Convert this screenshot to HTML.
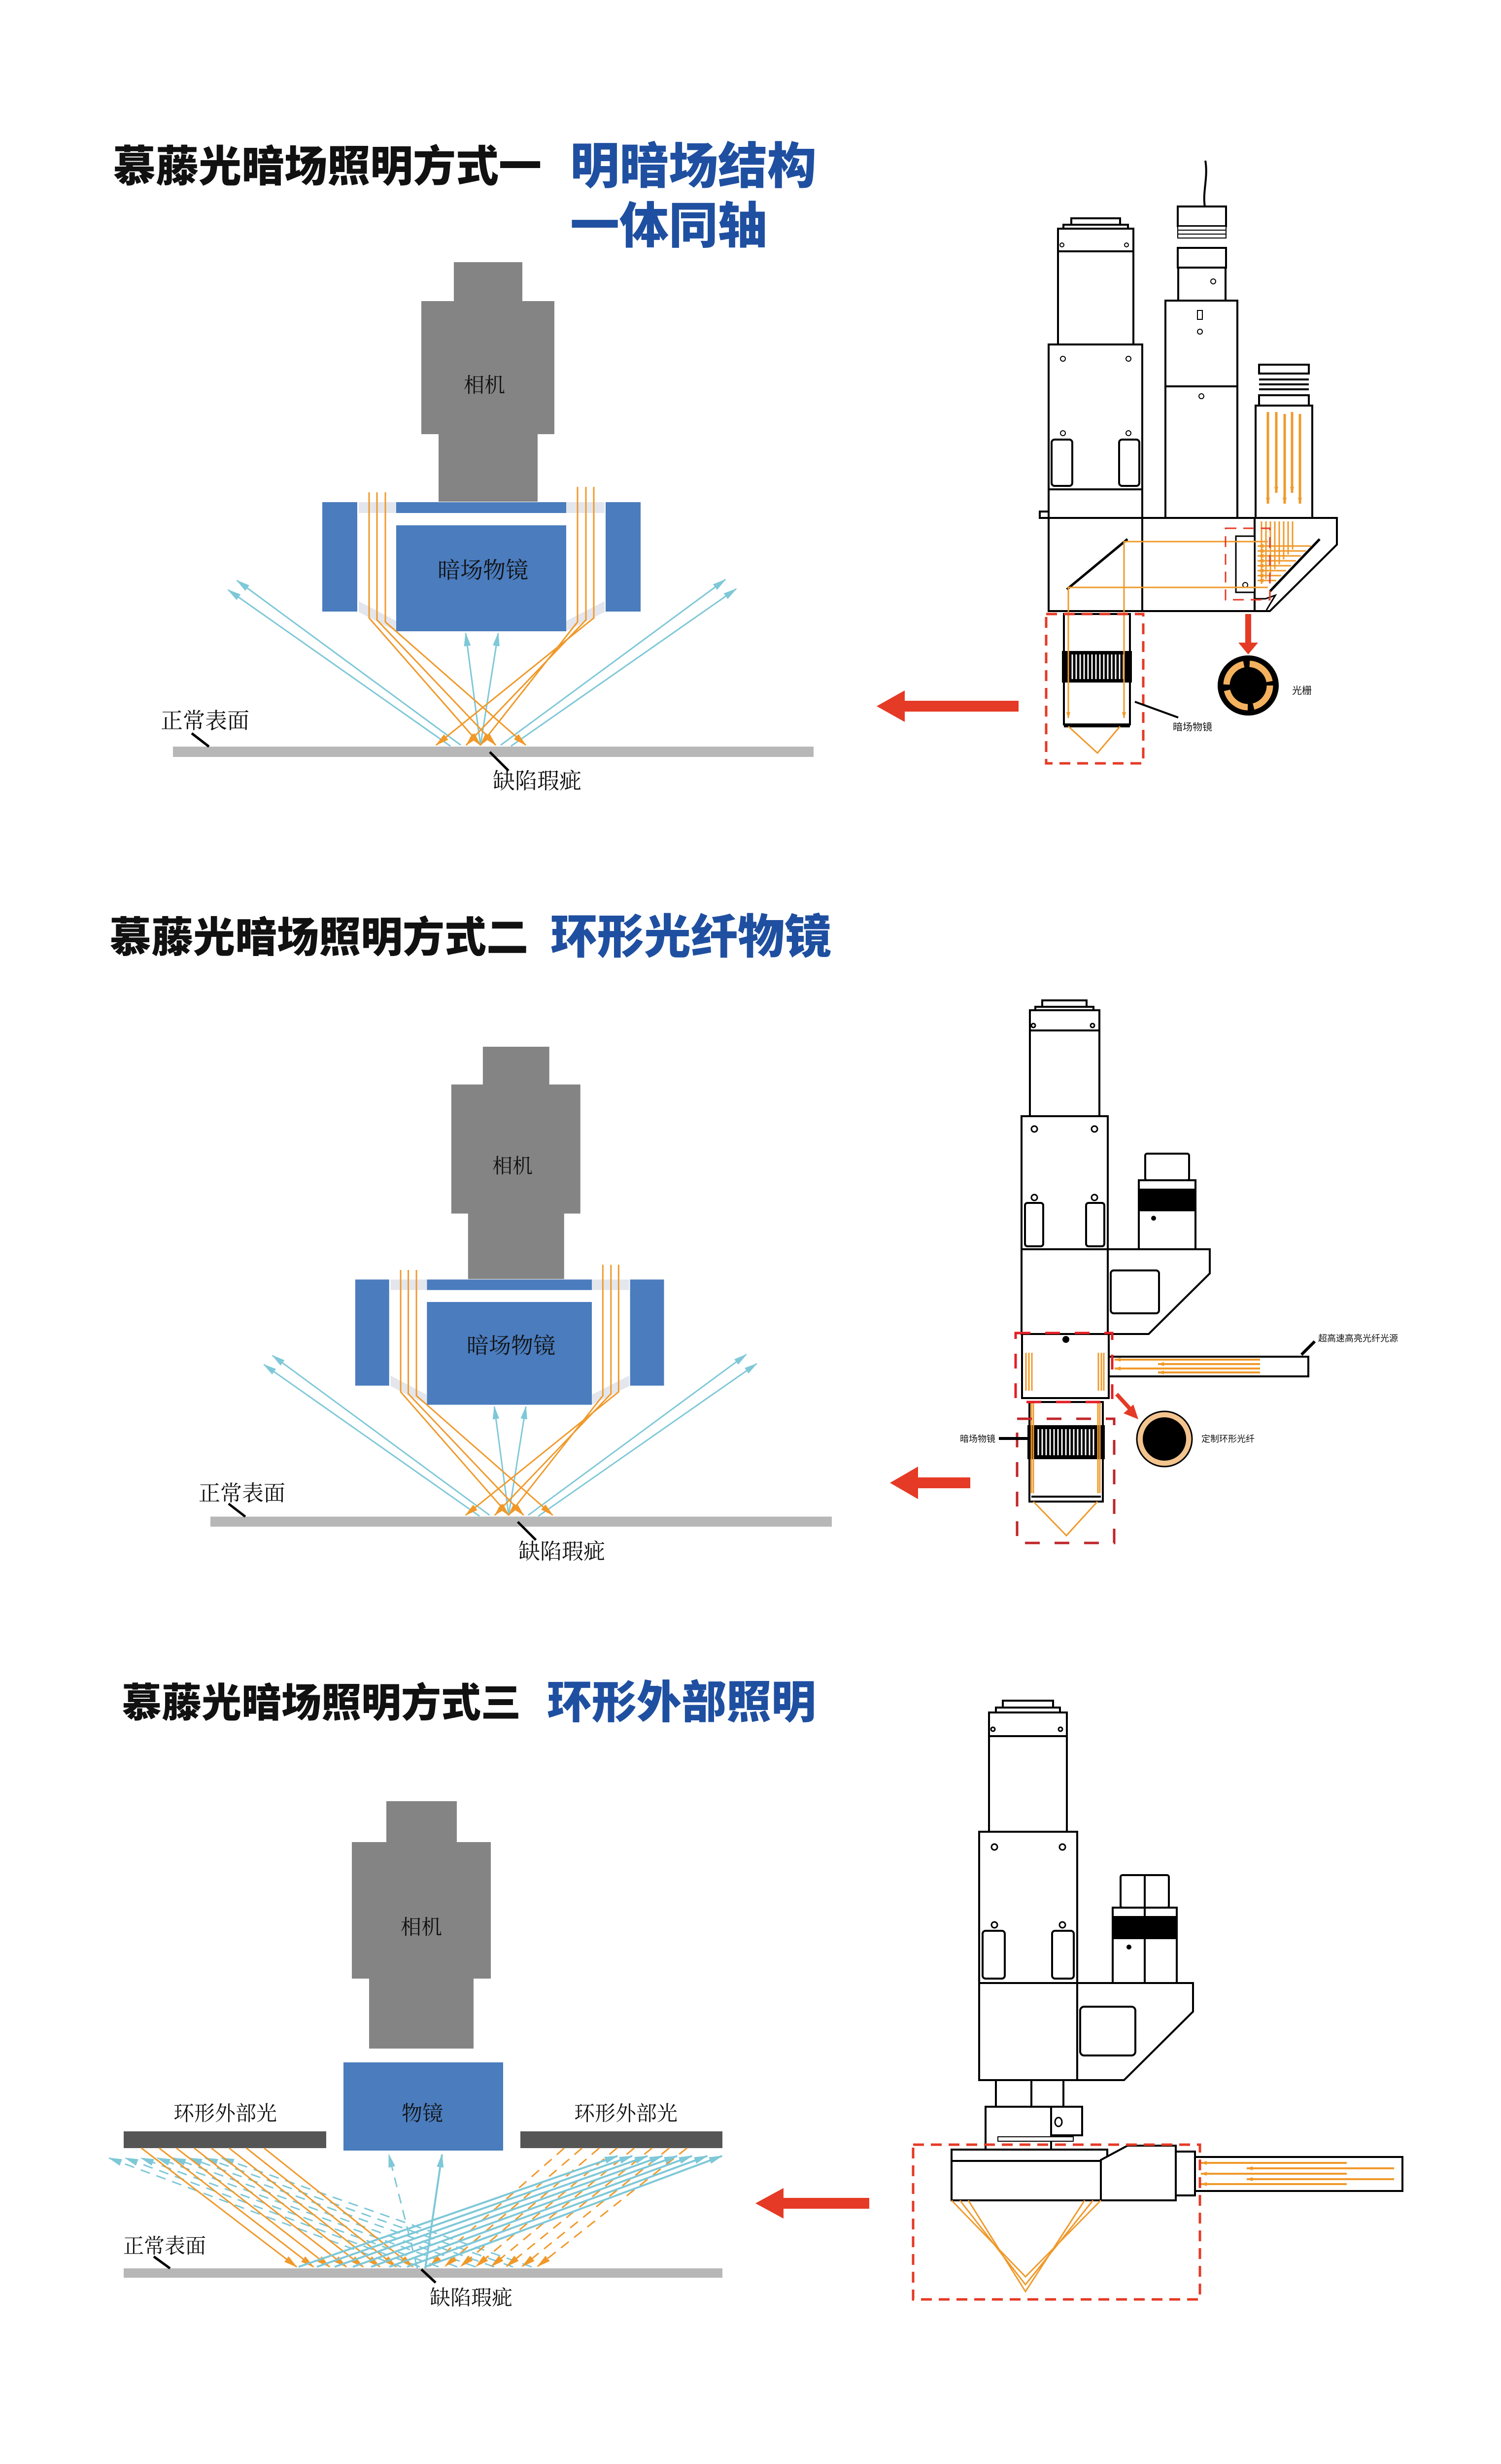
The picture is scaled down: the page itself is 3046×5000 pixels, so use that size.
<!DOCTYPE html>
<html><head><meta charset="utf-8">
<style>
html,body{margin:0;padding:0;background:#fff;}
svg{display:block;}
.t{font-family:"Liberation Sans","Noto Sans CJK SC",sans-serif;font-weight:900;}
.s{font-family:"Liberation Serif","Noto Serif CJK SC",serif;}
.d{font-family:"Liberation Sans","Noto Sans CJK SC",sans-serif;}
</style></head><body>
<svg width="3046" height="5000" viewBox="0 0 3046 5000" xmlns="http://www.w3.org/2000/svg">
<defs>
<marker id="ac" markerUnits="userSpaceOnUse" markerWidth="30" markerHeight="20" refX="26" refY="10" orient="auto"><path d="M0,3 L28,10 L0,17 Z" fill="#7ec8d8"/></marker>
<marker id="ao" markerUnits="userSpaceOnUse" markerWidth="30" markerHeight="20" refX="26" refY="10" orient="auto"><path d="M0,3 L28,10 L0,17 Z" fill="#f0992a"/></marker>
<marker id="ao2" markerUnits="userSpaceOnUse" markerWidth="14" markerHeight="10" refX="12" refY="5" orient="auto"><path d="M0,1 L13,5 L0,9 Z" fill="#f0992a"/></marker>

<g id="diag1">
 <rect x="921" y="532" width="139" height="80" fill="#848484"/>
 <rect x="855" y="611" width="270" height="270" fill="#848484"/>
 <rect x="890" y="880" width="201" height="138" fill="#848484"/>
 <rect x="654" y="1019" width="71" height="222" fill="#4a7cbe"/>
 <rect x="1229" y="1019" width="71" height="222" fill="#4a7cbe"/>
 <rect x="804" y="1019" width="345" height="22" fill="#4a7cbe"/>
 <rect x="804" y="1066" width="345" height="215" fill="#4a7cbe"/>
 <rect x="728" y="1019" width="76" height="22" fill="#e3e6ec"/>
 <rect x="1149" y="1019" width="78" height="22" fill="#e3e6ec"/>
 <path d="M728,1220 L804,1260 L804,1281 L728,1242 Z" fill="#e3e6ec"/>
 <path d="M1227,1220 L1149,1260 L1149,1281 L1227,1242 Z" fill="#e3e6ec"/>
 <rect x="351" y="1515" width="1300" height="21" fill="#b7b7b7"/>
 <path d="M960,1515 L975,1508 L992,1515 Z" fill="#fff"/>
 <g stroke="#7ec8d8" stroke-width="3" fill="none">
  <line x1="935" y1="1512" x2="481" y2="1178" marker-end="url(#ac)"/>
  <line x1="914" y1="1514" x2="463" y2="1197" marker-end="url(#ac)"/>
  <line x1="1016" y1="1512" x2="1472" y2="1176" marker-end="url(#ac)"/>
  <line x1="1037" y1="1514" x2="1494" y2="1195" marker-end="url(#ac)"/>
  <line x1="975" y1="1512" x2="945" y2="1285" marker-end="url(#ac)"/>
  <line x1="975" y1="1512" x2="1011" y2="1285" marker-end="url(#ac)"/>
 </g>
 <g stroke="#f0992a" stroke-width="3" fill="none">
  <polyline points="749,999 749,1254 975,1512" marker-end="url(#ao)"/>
  <polyline points="765,999 765,1258 1006,1512" marker-end="url(#ao)"/>
  <polyline points="782,999 782,1262 1067,1512" marker-end="url(#ao)"/>
  <polyline points="1205,988 1205,1254 885,1512" marker-end="url(#ao)"/>
  <polyline points="1189,988 1189,1258 946,1512" marker-end="url(#ao)"/>
  <polyline points="1172,988 1172,1262 975,1512" marker-end="url(#ao)"/>
 </g>
 <line x1="389" y1="1488" x2="424" y2="1515" stroke="#000" stroke-width="5"/>
 <line x1="994" y1="1526" x2="1032" y2="1564" stroke="#000" stroke-width="5"/>
</g>
</defs>

<rect width="3046" height="5000" fill="#fff"/>

<!-- ============ SECTION 1 ============ -->
<text class="t" x="229" y="368" font-size="87" fill="#111">慕藤光暗场照明方式一</text>
<text class="t" x="1157" y="372" font-size="100" fill="#1f4fa0">明暗场结构</text>
<text class="t" x="1157" y="493" font-size="100" fill="#1f4fa0">一体同轴</text>

<use href="#diag1"/>
<text class="s" x="983" y="796" font-size="42" text-anchor="middle" fill="#111">相机</text>
<text class="s" x="980" y="1173" font-size="46" text-anchor="middle" fill="#111">暗场物镜</text>
<text class="s" x="326" y="1478" font-size="45" fill="#111">正常表面</text>
<text class="s" x="1000" y="1600" font-size="45" fill="#111">缺陷瑕疵</text>

<!-- device 1 -->
<g stroke="#000" stroke-width="4" fill="#fff">
 <path d="M2445,419 C2440,390 2452,360 2446,326" fill="none"/>
 <rect x="2174" y="443" width="99" height="13"/>
 <rect x="2158" y="456" width="131" height="8"/>
 <rect x="2147" y="464" width="153" height="235"/>
 <line x1="2147" y1="510" x2="2300" y2="510"/>
 <rect x="2128" y="699" width="190" height="352"/>
 <line x1="2128" y1="993" x2="2318" y2="993"/>
 <rect x="2134" y="892" width="42" height="94" rx="6"/>
 <rect x="2271" y="892" width="41" height="94" rx="6"/>
 <rect x="2110" y="1038" width="18" height="13"/>
 <rect x="2128" y="1051" width="190" height="189"/>
 <path d="M2318,1051 L2713,1051 L2713,1105 L2577,1240 L2318,1240 Z"/>
 <line x1="2546" y1="1051" x2="2546" y2="1240"/>
 <path d="M2546,1215 L2568,1215 L2588,1208 L2570,1238" fill="none" stroke-width="3"/>
 <rect x="2508" y="1088" width="38" height="114" stroke-width="3"/>
 <circle cx="2527" cy="1187" r="5" stroke-width="2"/>
 <rect x="2390" y="419" width="98" height="40"/>
 <rect x="2390" y="459" width="98" height="8" stroke-width="2"/>
 <rect x="2390" y="467" width="98" height="8" stroke-width="2"/>
 <rect x="2390" y="475" width="98" height="8" stroke-width="2"/>
 <rect x="2390" y="503" width="98" height="40"/>
 <rect x="2391" y="543" width="96" height="67"/>
 <rect x="2365" y="610" width="146" height="441"/>
 <line x1="2365" y1="784" x2="2511" y2="784"/>
 <rect x="2430" y="630" width="10" height="18" stroke-width="2"/>
 <circle cx="2435" cy="673" r="5" stroke-width="2"/>
 <circle cx="2438" cy="804" r="5" stroke-width="2"/>
 <circle cx="2462" cy="571" r="5" stroke-width="2"/>
 <rect x="2555" y="740" width="101" height="18"/>
 <line x1="2555" y1="770" x2="2656" y2="770"/>
 <line x1="2555" y1="780" x2="2656" y2="780"/>
 <line x1="2555" y1="790" x2="2656" y2="790"/>
 <rect x="2555" y="802" width="101" height="21"/>
 <rect x="2548" y="823" width="115" height="228"/>
 <rect x="2159" y="1246" width="134" height="224"/>
 <rect x="2157" y="1323" width="138" height="60" fill="#000"/>
 <line x1="2159" y1="1474" x2="2293" y2="1474"/>
</g>
<g stroke="#fff" stroke-width="3">
 <line x1="2168" y1="1328" x2="2168" y2="1378"/><line x1="2176" y1="1328" x2="2176" y2="1378"/><line x1="2184" y1="1328" x2="2184" y2="1378"/><line x1="2192" y1="1328" x2="2192" y2="1378"/><line x1="2200" y1="1328" x2="2200" y2="1378"/><line x1="2208" y1="1328" x2="2208" y2="1378"/><line x1="2216" y1="1328" x2="2216" y2="1378"/><line x1="2224" y1="1328" x2="2224" y2="1378"/><line x1="2232" y1="1328" x2="2232" y2="1378"/><line x1="2240" y1="1328" x2="2240" y2="1378"/><line x1="2248" y1="1328" x2="2248" y2="1378"/><line x1="2256" y1="1328" x2="2256" y2="1378"/><line x1="2264" y1="1328" x2="2264" y2="1378"/><line x1="2272" y1="1328" x2="2272" y2="1378"/><line x1="2280" y1="1328" x2="2280" y2="1378"/>
</g>
<g fill="none" stroke="#000" stroke-width="2">
 <circle cx="2155" cy="497" r="4"/><circle cx="2286" cy="497" r="4"/>
 <circle cx="2157" cy="728" r="5"/><circle cx="2290" cy="728" r="5"/>
 <circle cx="2157" cy="879" r="5"/><circle cx="2290" cy="879" r="5"/>
</g>
<line x1="2165" y1="1196" x2="2288" y2="1094" stroke="#000" stroke-width="5"/>
<line x1="2577" y1="1200" x2="2678" y2="1094" stroke="#000" stroke-width="5"/>
<g stroke="#f0992a" stroke-width="3" fill="none">
 <polyline points="2573,1099 2281,1099 2281,1457" marker-end="url(#ao2)"/>
 <polyline points="2573,1192 2168,1192 2168,1457" marker-end="url(#ao2)"/>
 <polyline points="2168,1474 2227,1528 2273,1474"/>
 <line x1="2560" y1="1058" x2="2560" y2="1185"/><line x1="2569" y1="1058" x2="2569" y2="1175"/><line x1="2578" y1="1058" x2="2578" y2="1165"/><line x1="2587" y1="1058" x2="2587" y2="1155"/><line x1="2596" y1="1058" x2="2596" y2="1145"/><line x1="2605" y1="1058" x2="2605" y2="1135"/><line x1="2614" y1="1058" x2="2614" y2="1125"/><line x1="2623" y1="1058" x2="2623" y2="1115"/>
 <line x1="2660" y1="1108" x2="2552" y2="1108" marker-end="url(#ao2)"/><line x1="2650" y1="1118" x2="2552" y2="1118" marker-end="url(#ao2)"/><line x1="2640" y1="1128" x2="2552" y2="1128" marker-end="url(#ao2)"/><line x1="2630" y1="1138" x2="2552" y2="1138" marker-end="url(#ao2)"/><line x1="2620" y1="1148" x2="2552" y2="1148" marker-end="url(#ao2)"/><line x1="2610" y1="1158" x2="2552" y2="1158" marker-end="url(#ao2)"/><line x1="2600" y1="1168" x2="2552" y2="1168" marker-end="url(#ao2)"/><line x1="2590" y1="1178" x2="2552" y2="1178" marker-end="url(#ao2)"/>
</g>
<g stroke="#f0992a" stroke-width="5">
 <line x1="2573" y1="836" x2="2573" y2="1022" marker-end="url(#ao2)"/>
 <line x1="2590" y1="836" x2="2590" y2="1000" marker-end="url(#ao2)"/>
 <line x1="2607" y1="840" x2="2607" y2="1022" marker-end="url(#ao2)"/>
 <line x1="2622" y1="836" x2="2622" y2="1000" marker-end="url(#ao2)"/>
 <line x1="2638" y1="840" x2="2638" y2="1022" marker-end="url(#ao2)"/>
</g>
<g fill="none" stroke="#e53a25" stroke-width="5" stroke-dasharray="22,14">
 <rect x="2123" y="1246" width="197" height="303"/>
 <rect x="2487" y="1072" width="90" height="145" stroke-width="3"/>
</g>
<path d="M2527,1246 h12 v58 h14 l-20,24 l-20,-24 h14 z" fill="#e53a25"/>
<path d="M1779,1433 L1836,1401 L1836,1422 L2067,1422 L2067,1444 L1836,1444 L1836,1465 Z" fill="#e53a25"/>
<ellipse cx="2533" cy="1391" rx="62" ry="61" fill="#000"/>
<circle cx="2533" cy="1391" r="44" fill="none" stroke="#f4b25e" stroke-width="13" stroke-dasharray="58,12"/>
<text class="d" x="2622" y="1408" font-size="20" fill="#111">光栅</text>
<line x1="2303" y1="1424" x2="2391" y2="1456" stroke="#000" stroke-width="4"/>
<text class="d" x="2380" y="1482" font-size="20" fill="#111">暗场物镜</text>

<!-- ============ SECTION 2 ============ -->
<text class="t" x="222" y="1932" font-size="85" fill="#111">慕藤光暗场照明方式二</text>
<text class="t" x="1117" y="1934" font-size="95" fill="#1f4fa0">环形光纤物镜</text>

<use href="#diag1" transform="translate(86.5,1608) scale(0.97)"/>
<text class="s" x="1040" y="2380" font-size="41" text-anchor="middle" fill="#111">相机</text>
<text class="s" x="1037" y="2746" font-size="45" text-anchor="middle" fill="#111">暗场物镜</text>
<text class="s" x="403" y="3045" font-size="44" fill="#111">正常表面</text>
<text class="s" x="1052" y="3163" font-size="44" fill="#111">缺陷瑕疵</text>

<g stroke="#000" stroke-width="4" fill="#fff">
 <rect x="2115" y="2030" width="90" height="13"/>
 <rect x="2101" y="2043" width="118" height="7"/>
 <rect x="2090" y="2050" width="141" height="215"/>
 <line x1="2090" y1="2091" x2="2231" y2="2091"/>
 <path d="M2248,2535 L2455,2535 L2455,2584 L2331,2707 L2248,2707 Z"/>
 <rect x="2254" y="2578" width="98" height="87" rx="6"/>
 <rect x="2324" y="2341" width="89" height="54" rx="4"/>
 <rect x="2311" y="2395" width="115" height="140"/>
 <rect x="2073" y="2265" width="175" height="442"/>
 <line x1="2073" y1="2535" x2="2248" y2="2535"/>
 <rect x="2080" y="2441" width="37" height="88" rx="5"/>
 <rect x="2204" y="2441" width="37" height="88" rx="5"/>
 <rect x="2074" y="2707" width="176" height="130"/>
 <rect x="2250" y="2753" width="405" height="40"/>
 <rect x="2089" y="2845" width="149" height="202"/>
 <rect x="2087" y="2894" width="153" height="65" fill="#000"/>
 <line x1="2093" y1="3037" x2="2234" y2="3037"/>
</g>
<rect x="2311" y="2412" width="115" height="46" fill="#000"/>
<circle cx="2341" cy="2472" r="5" fill="#000"/>
<circle cx="2163" cy="2718" r="7" fill="#000"/>
<g fill="none" stroke="#000" stroke-width="3">
 <circle cx="2097" cy="2081" r="4"/><circle cx="2217" cy="2081" r="4"/>
 <circle cx="2099" cy="2291" r="6"/><circle cx="2221" cy="2291" r="6"/>
 <circle cx="2099" cy="2430" r="6"/><circle cx="2221" cy="2430" r="6"/>
</g>
<g stroke="#fff" stroke-width="3">
 <line x1="2107" y1="2900" x2="2107" y2="2953"/><line x1="2115" y1="2900" x2="2115" y2="2953"/><line x1="2123" y1="2900" x2="2123" y2="2953"/><line x1="2131" y1="2900" x2="2131" y2="2953"/><line x1="2139" y1="2900" x2="2139" y2="2953"/><line x1="2147" y1="2900" x2="2147" y2="2953"/><line x1="2155" y1="2900" x2="2155" y2="2953"/><line x1="2163" y1="2900" x2="2163" y2="2953"/><line x1="2171" y1="2900" x2="2171" y2="2953"/><line x1="2179" y1="2900" x2="2179" y2="2953"/><line x1="2187" y1="2900" x2="2187" y2="2953"/><line x1="2195" y1="2900" x2="2195" y2="2953"/><line x1="2203" y1="2900" x2="2203" y2="2953"/><line x1="2211" y1="2900" x2="2211" y2="2953"/><line x1="2219" y1="2900" x2="2219" y2="2953"/>
</g>
<g stroke="#f0992a" stroke-width="3" fill="none">
 <line x1="2082" y1="2745" x2="2082" y2="2822"/><line x1="2088" y1="2745" x2="2088" y2="2822"/><line x1="2094" y1="2745" x2="2094" y2="2822"/>
 <line x1="2229" y1="2745" x2="2229" y2="2822"/><line x1="2235" y1="2745" x2="2235" y2="2822"/><line x1="2240" y1="2745" x2="2240" y2="2822"/>
 <line x1="2093" y1="2845" x2="2093" y2="3030"/><line x1="2097" y1="2845" x2="2097" y2="3030"/>
 <line x1="2228" y1="2845" x2="2228" y2="3030"/><line x1="2232" y1="2845" x2="2232" y2="3030"/>
 <polyline points="2097,3047 2164,3116 2227,3047"/>
</g>
<g stroke="#f0992a" stroke-width="4">
 <line x1="2557" y1="2759" x2="2262" y2="2759" marker-end="url(#ao2)"/>
 <line x1="2557" y1="2768" x2="2350" y2="2768" marker-end="url(#ao2)"/>
 <line x1="2557" y1="2777" x2="2262" y2="2777" marker-end="url(#ao2)"/>
 <line x1="2557" y1="2785" x2="2350" y2="2785" marker-end="url(#ao2)"/>
</g>
<g fill="none" stroke="#c0262a" stroke-width="5" stroke-dasharray="30,30">
 <rect x="2061" y="2705" width="196" height="140" stroke="#e31e24"/>
 <rect x="2064" y="2879" width="197" height="252"/>
</g>
<line x1="2641" y1="2749" x2="2668" y2="2722" stroke="#000" stroke-width="6"/>
<text class="d" x="2675" y="2722" font-size="18" fill="#111">超高速高亮光纤光源</text>
<line x1="2027" y1="2919" x2="2087" y2="2919" stroke="#000" stroke-width="6"/>
<text class="d" x="1948" y="2926" font-size="18" fill="#111">暗场物镜</text>
<line x1="2266" y1="2829" x2="2296" y2="2862" stroke="#e53a25" stroke-width="8"/>
<path d="M2310,2880 L2280,2868 L2300,2850 Z" fill="#e53a25"/>
<circle cx="2363" cy="2920" r="56" fill="#f3c48e" stroke="#000" stroke-width="3"/>
<circle cx="2363" cy="2920" r="44" fill="#000"/>
<text class="d" x="2438" y="2926" font-size="18" fill="#111">定制环形光纤</text>
<path d="M1806,3009 L1863,2976 L1863,2998 L1969,2998 L1969,3020 L1863,3020 L1863,3042 Z" fill="#e53a25"/>

<!-- ============ SECTION 3 ============ -->
<text class="t" x="247" y="3484" font-size="81" fill="#111">慕藤光暗场照明方式三</text>
<text class="t" x="1110" y="3486" font-size="91" fill="#1f4fa0">环形外部照明</text>

<rect x="784" y="3655" width="143" height="84" fill="#848484"/>
<rect x="714" y="3738" width="282" height="277" fill="#848484"/>
<rect x="749" y="4014" width="212" height="143" fill="#848484"/>
<text class="s" x="855" y="3925" font-size="42" text-anchor="middle" fill="#111">相机</text>
<rect x="697" y="4185" width="324" height="179" fill="#4a7cbe"/>
<text class="s" x="857" y="4303" font-size="42" text-anchor="middle" fill="#111">物镜</text>
<rect x="251" y="4325" width="411" height="34" fill="#555"/>
<rect x="1056" y="4325" width="410" height="34" fill="#555"/>
<text class="s" x="457" y="4303" font-size="42" text-anchor="middle" fill="#111">环形外部光</text>
<text class="s" x="1270" y="4303" font-size="42" text-anchor="middle" fill="#111">环形外部光</text>
<rect x="251" y="4603" width="1215" height="19" fill="#b7b7b7"/>
<g stroke="#7ec8d8" stroke-width="3" stroke-dasharray="20,14" fill="none">
 <line x1="814" y1="4600" x2="221" y2="4379" marker-end="url(#ac)"/>
 <line x1="852" y1="4600" x2="254" y2="4379" marker-end="url(#ac)"/>
 <line x1="890" y1="4600" x2="286" y2="4379" marker-end="url(#ac)"/>
 <line x1="928" y1="4600" x2="319" y2="4379" marker-end="url(#ac)"/>
 <line x1="965" y1="4600" x2="351" y2="4379" marker-end="url(#ac)"/>
 <line x1="1003" y1="4600" x2="384" y2="4379" marker-end="url(#ac)"/>
 <line x1="1041" y1="4600" x2="416" y2="4379" marker-end="url(#ac)"/>
 <line x1="1079" y1="4600" x2="449" y2="4379" marker-end="url(#ac)"/>
 <line x1="847" y1="4603" x2="789" y2="4372" marker-end="url(#ac)"/>
</g>
<g stroke="#f0992a" stroke-width="3" stroke-dasharray="20,14" fill="none">
 <line x1="1145" y1="4359" x2="872" y2="4599" marker-end="url(#ao)"/>
 <line x1="1181" y1="4359" x2="903" y2="4599" marker-end="url(#ao)"/>
 <line x1="1216" y1="4359" x2="935" y2="4599" marker-end="url(#ao)"/>
 <line x1="1252" y1="4359" x2="966" y2="4599" marker-end="url(#ao)"/>
 <line x1="1287" y1="4359" x2="997" y2="4599" marker-end="url(#ao)"/>
 <line x1="1323" y1="4359" x2="1028" y2="4599" marker-end="url(#ao)"/>
 <line x1="1358" y1="4359" x2="1060" y2="4599" marker-end="url(#ao)"/>
 <line x1="1394" y1="4359" x2="1091" y2="4599" marker-end="url(#ao)"/>
</g>
<g stroke="#f0992a" stroke-width="3" fill="none">
 <line x1="287" y1="4359" x2="602" y2="4600" marker-end="url(#ao)"/>
 <line x1="323" y1="4359" x2="636" y2="4600" marker-end="url(#ao)"/>
 <line x1="358" y1="4359" x2="669" y2="4600" marker-end="url(#ao)"/>
 <line x1="394" y1="4359" x2="703" y2="4600" marker-end="url(#ao)"/>
 <line x1="429" y1="4359" x2="737" y2="4600" marker-end="url(#ao)"/>
 <line x1="465" y1="4359" x2="771" y2="4600" marker-end="url(#ao)"/>
 <line x1="500" y1="4359" x2="804" y2="4600" marker-end="url(#ao)"/>
 <line x1="536" y1="4359" x2="838" y2="4600" marker-end="url(#ao)"/>
</g>
<g stroke="#7ec8d8" stroke-width="4" fill="none">
 <line x1="606" y1="4600" x2="1253" y2="4375" marker-end="url(#ac)"/>
 <line x1="643" y1="4600" x2="1283" y2="4375" marker-end="url(#ac)"/>
 <line x1="679" y1="4600" x2="1314" y2="4375" marker-end="url(#ac)"/>
 <line x1="716" y1="4600" x2="1344" y2="4375" marker-end="url(#ac)"/>
 <line x1="753" y1="4600" x2="1374" y2="4375" marker-end="url(#ac)"/>
 <line x1="790" y1="4600" x2="1404" y2="4375" marker-end="url(#ac)"/>
 <line x1="826" y1="4600" x2="1435" y2="4375" marker-end="url(#ac)"/>
 <line x1="863" y1="4600" x2="1465" y2="4375" marker-end="url(#ac)"/>
 <line x1="863" y1="4603" x2="897" y2="4372" marker-end="url(#ac)"/>
</g>
<line x1="312" y1="4579" x2="345" y2="4603" stroke="#000" stroke-width="5"/>
<line x1="855" y1="4605" x2="884" y2="4632" stroke="#000" stroke-width="5"/>
<text class="s" x="250" y="4572" font-size="42" fill="#111">正常表面</text>
<text class="s" x="872" y="4677" font-size="42" fill="#111">缺陷瑕疵</text>

<g stroke="#000" stroke-width="4" fill="#fff">
 <rect x="2035" y="3451" width="102" height="14"/>
 <rect x="2021" y="3465" width="130" height="10"/>
 <rect x="2007" y="3475" width="158" height="242"/>
 <line x1="2007" y1="3523" x2="2165" y2="3523"/>
 <rect x="2274" y="3805" width="98" height="66" rx="4"/>
 <rect x="2258" y="3871" width="130" height="153"/>
 <line x1="2323" y1="3805" x2="2323" y2="4024"/>
 <path d="M2186,4024 L2421,4024 L2421,4082 L2281,4221 L2186,4221 Z"/>
 <rect x="2192" y="4072" width="112" height="99" rx="8"/>
 <rect x="1987" y="3717" width="199" height="504"/>
 <line x1="1987" y1="4024" x2="2186" y2="4024"/>
 <rect x="1994" y="3918" width="45" height="97" rx="6"/>
 <rect x="2135" y="3918" width="44" height="97" rx="6"/>
 <rect x="2021" y="4221" width="137" height="54"/>
 <line x1="2093" y1="4221" x2="2093" y2="4275"/>
 <rect x="2133" y="4275" width="63" height="58"/>
 <rect x="2000" y="4275" width="133" height="87"/>
 <rect x="2025" y="4336" width="153" height="9" stroke-width="2"/>
 <rect x="1931" y="4362" width="316" height="103"/>
 <line x1="1931" y1="4385" x2="2247" y2="4385"/>
 <path d="M2234,4383 L2288,4354 L2386,4354 L2386,4465 L2234,4465 Z"/>
 <rect x="2386" y="4366" width="39" height="89"/>
 <rect x="2425" y="4377" width="421" height="69"/>
</g>
<rect x="2258" y="3888" width="130" height="47" fill="#000"/>
<circle cx="2291" cy="3951" r="5" fill="#000"/>
<ellipse cx="2148" cy="4306" rx="7" ry="9" fill="none" stroke="#000" stroke-width="3"/>
<g fill="none" stroke="#000" stroke-width="3">
 <circle cx="2015" cy="3509" r="4"/><circle cx="2152" cy="3509" r="4"/>
 <circle cx="2018" cy="3748" r="6"/><circle cx="2156" cy="3748" r="6"/>
 <circle cx="2018" cy="3906" r="6"/><circle cx="2156" cy="3906" r="6"/>
</g>
<g stroke="#f0992a" stroke-width="3" fill="none">
 <polyline points="1931,4465 2081,4620 2234,4465" />
 <polyline points="1948,4465 2081,4636 2218,4465" />
 <polyline points="1965,4465 2081,4650 2201,4465" />
</g>
<g stroke="#f0992a" stroke-width="4">
 <line x1="2733" y1="4389" x2="2437" y2="4389" marker-end="url(#ao2)"/>
 <line x1="2829" y1="4400" x2="2530" y2="4400" marker-end="url(#ao2)"/>
 <line x1="2733" y1="4411" x2="2437" y2="4411" marker-end="url(#ao2)"/>
 <line x1="2829" y1="4422" x2="2530" y2="4422" marker-end="url(#ao2)"/>
 <line x1="2733" y1="4432" x2="2437" y2="4432" marker-end="url(#ao2)"/>
</g>
<rect x="1853" y="4352" width="582" height="314" fill="none" stroke="#e53a25" stroke-width="5" stroke-dasharray="22,14"/>
<path d="M1533,4471 L1590,4440 L1590,4460 L1764,4460 L1764,4482 L1590,4482 L1590,4502 Z" fill="#e53a25"/>
</svg>
</body></html>
